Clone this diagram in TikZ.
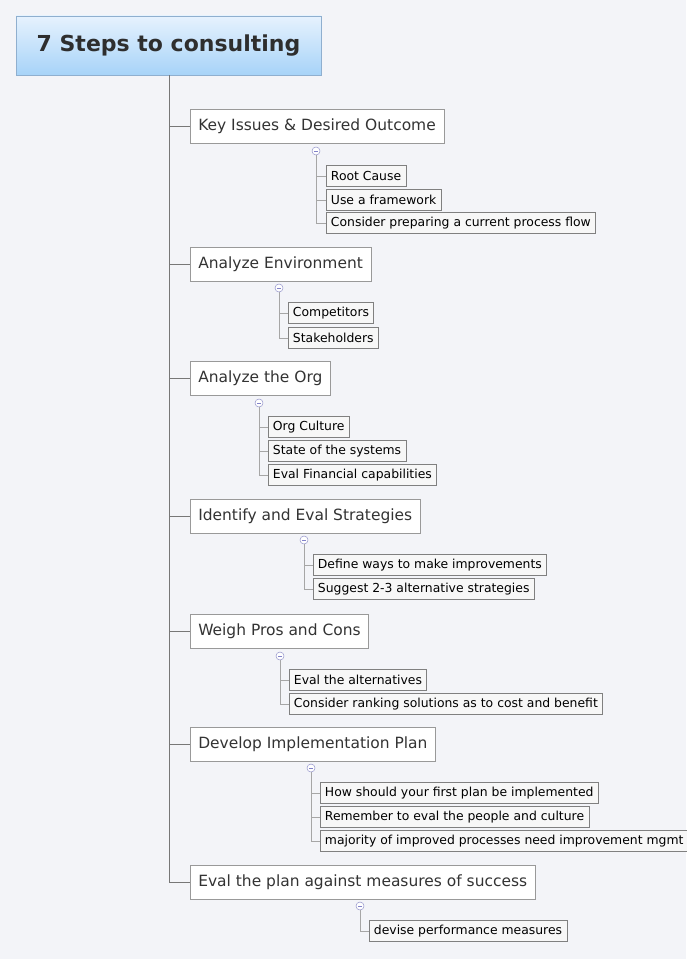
\documentclass[tikz,border=0pt]{standalone}
\usepackage{fontspec}
\setmainfont{DejaVu Sans}
\definecolor{bg}{HTML}{F3F4F8}
\definecolor{rootb}{HTML}{8FAFCF}
\definecolor{topb}{HTML}{E6F2FE}
\definecolor{botb}{HTML}{A7D3F8}
\definecolor{txt}{HTML}{333333}
\definecolor{ln}{HTML}{777777}
\tikzset{
 root/.style={draw=rootb,top color=topb,bottom color=botb,minimum width=305*0.75pt,minimum height=59*0.75pt,font=\fontsize{16.5}{18}\selectfont\bfseries,text=txt!90!black,inner sep=0pt},
 topic/.style={draw=black!40,fill=white,anchor=west,minimum height=34*0.75pt,inner xsep=6pt,inner ysep=0pt,font=\fontsize{11.6}{13}\selectfont,text=txt},
 sub/.style={draw=black!50,fill=black!3,anchor=west,minimum height=21*0.75pt,inner xsep=3.5pt,inner ysep=0pt,font=\fontsize{9.3}{11}\selectfont,text=black},
 knob/.style={circle,draw=blue!35!gray!60,fill=white,minimum size=6pt,inner sep=0pt},
 conn/.style={draw=ln,line width=0.6pt},
 sconn/.style={draw=gray!70,line width=0.6pt}
}
\begin{document}
\begin{tikzpicture}[x=0.75pt,y=-0.75pt]
\fill[bg] (0,0) rectangle (686,959);
\useasboundingbox (0,0) rectangle (686,959);
\node[root] (R) at (168.5,45.5) {7 Steps to consulting};
\coordinate (trunk) at (169,882);
\draw[conn] (R.south -| trunk) -- (trunk);
% topics
\node[topic,minimum width=251*0.75pt] (T1) at (190,126) {Key Issues \& Desired Outcome};
\node[topic,minimum width=175*0.75pt] (T2) at (190,264) {Analyze Environment};
\node[topic,minimum width=137*0.75pt] (T3) at (190,378) {Analyze the Org};
\node[topic,minimum width=226*0.75pt] (T4) at (190,516) {Identify and Eval Strategies};
\node[topic,minimum width=175*0.75pt] (T5) at (190,631) {Weigh Pros and Cons};
\node[topic,minimum width=240*0.75pt] (T6) at (190,744) {Develop Implementation Plan};
\node[topic,minimum width=337*0.75pt] (T7) at (190,882) {Eval the plan against measures of success};
\foreach \t in {T1,T2,T3,T4,T5,T6,T7} \draw[conn] (trunk |- \t.west) -- (\t.west);
% subtopics
\node[sub] (A1) at (326,176) {Root Cause};
\node[sub] (A2) at (326,200) {Use a framework};
\node[sub] (A3) at (326,223) {Consider preparing a current process flow};
\node[sub] (B1) at (288,313) {Competitors};
\node[sub] (B2) at (288,338) {Stakeholders};
\node[sub] (C1) at (268,427) {Org Culture};
\node[sub] (C2) at (268,451) {State of the systems};
\node[sub] (C3) at (268,475) {Eval Financial capabilities};
\node[sub] (D1) at (313,565) {Define ways to make improvements};
\node[sub] (D2) at (313,589) {Suggest 2-3 alternative strategies};
\node[sub] (E1) at (289,680) {Eval the alternatives};
\node[sub] (E2) at (289,704) {Consider ranking solutions as to cost and benefit};
\node[sub] (F1) at (320,793) {How should your first plan be implemented};
\node[sub] (F2) at (320,817) {Remember to eval the people and culture};
\node[sub] (F3) at (320,841) {majority of improved processes need improvement mgmt};
\node[sub] (G1) at (369,931) {devise performance measures};
% knobs and branches
\foreach \k/\x/\y/\list/\last in {K1/316/151/{A1,A2,A3}/A3, K2/279/288/{B1,B2}/B2, K3/259/403/{C1,C2,C3}/C3, K4/304/540/{D1,D2}/D2, K5/280/656/{E1,E2}/E2, K6/311/768/{F1,F2,F3}/F3, K7/360/906/{G1}/G1}{
  \coordinate (\k) at (\x,\y);
  \draw[sconn] (\k) -- (\k |- \last.west);
  \foreach \s in \list \draw[sconn] (\k |- \s.west) -- (\s.west);
  \node[knob] (\k n) at (\k) {};
  \draw[blue!40!gray!70,line width=0.5pt] ([xshift=-1.5pt]\k) -- ([xshift=1.5pt]\k);
}
\end{tikzpicture}
\end{document}
